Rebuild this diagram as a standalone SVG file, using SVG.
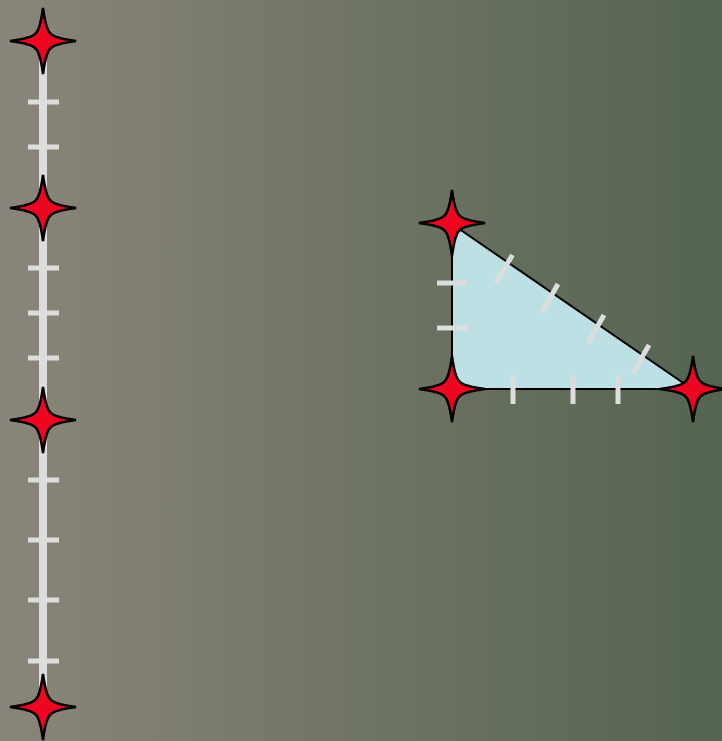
<svg xmlns="http://www.w3.org/2000/svg" xmlns:xlink="http://www.w3.org/1999/xlink" width="722" height="741" viewBox="0 0 722 741">
<defs>
<linearGradient id="bg" x1="0" y1="0" x2="1" y2="0">
<stop offset="0" stop-color="#8a857a"/>
<stop offset="1" stop-color="#546450"/>
</linearGradient>
<path id="star" d="M0,-33 Q3,-11 7.5,-7.5 Q11,-3 33,0 Q11,3 7.5,7.5 Q3,11 0,33 Q-3,11 -7.5,7.5 Q-11,3 -33,0 Q-11,-3 -7.5,-7.5 Q-3,-11 0,-33 Z"/>
</defs>
<style>
.tick{stroke:#dddddd;stroke-width:5;fill:none}
.rail{stroke:#dddddd;stroke-width:8;fill:none}
.star{fill:#ee0520;stroke:#000;stroke-width:2.5;stroke-linejoin:miter}
.tri{fill:#bde0e4;stroke:#000;stroke-width:2}
</style>
<rect width="722" height="741" fill="url(#bg)"/>
<g id="connectors">
<line class="rail" x1="43" y1="42" x2="43" y2="707"/>
<g id="rail-ticks">
<line class="tick" x1="28" y1="102" x2="59" y2="102"/>
<line class="tick" x1="28" y1="147" x2="59" y2="147"/>
<line class="tick" x1="28" y1="268" x2="59" y2="268"/>
<line class="tick" x1="28" y1="313" x2="59" y2="313"/>
<line class="tick" x1="28" y1="358" x2="59" y2="358"/>
<line class="tick" x1="28" y1="480" x2="59" y2="480"/>
<line class="tick" x1="28" y1="540" x2="59" y2="540"/>
<line class="tick" x1="28" y1="600" x2="59" y2="600"/>
<line class="tick" x1="28" y1="661" x2="59" y2="661"/>
</g>
<path class="tri" d="M452,224 L692,389 L482,389 Q455,389 452,370 Z"/>
<g id="tri-ticks">
<line class="tick" x1="437" y1="283" x2="467" y2="283"/>
<line class="tick" x1="437" y1="328" x2="467" y2="328"/>
<line class="tick" x1="513" y1="375" x2="513" y2="404"/>
<line class="tick" x1="573" y1="375" x2="573" y2="404"/>
<line class="tick" x1="618" y1="375" x2="618" y2="404"/>
<line class="tick" x1="495.5" y1="283" x2="512.5" y2="255"/>
<line class="tick" x1="542" y1="312" x2="558" y2="284"/>
<line class="tick" x1="588" y1="343" x2="604" y2="315"/>
<line class="tick" x1="633" y1="373" x2="649" y2="345"/>
</g>
</g>
<g id="node-1"><use xlink:href="#star" class="star" x="43" y="41"/></g>
<g id="node-2"><use xlink:href="#star" class="star" x="43" y="208"/></g>
<g id="node-3"><use xlink:href="#star" class="star" x="43" y="420"/></g>
<g id="node-4"><use xlink:href="#star" class="star" x="43" y="707"/></g>
<g id="node-5"><use xlink:href="#star" class="star" x="452" y="223"/></g>
<g id="node-6"><use xlink:href="#star" class="star" x="452" y="389"/></g>
<g id="node-7"><use xlink:href="#star" class="star" x="693" y="389"/></g>
</svg>
